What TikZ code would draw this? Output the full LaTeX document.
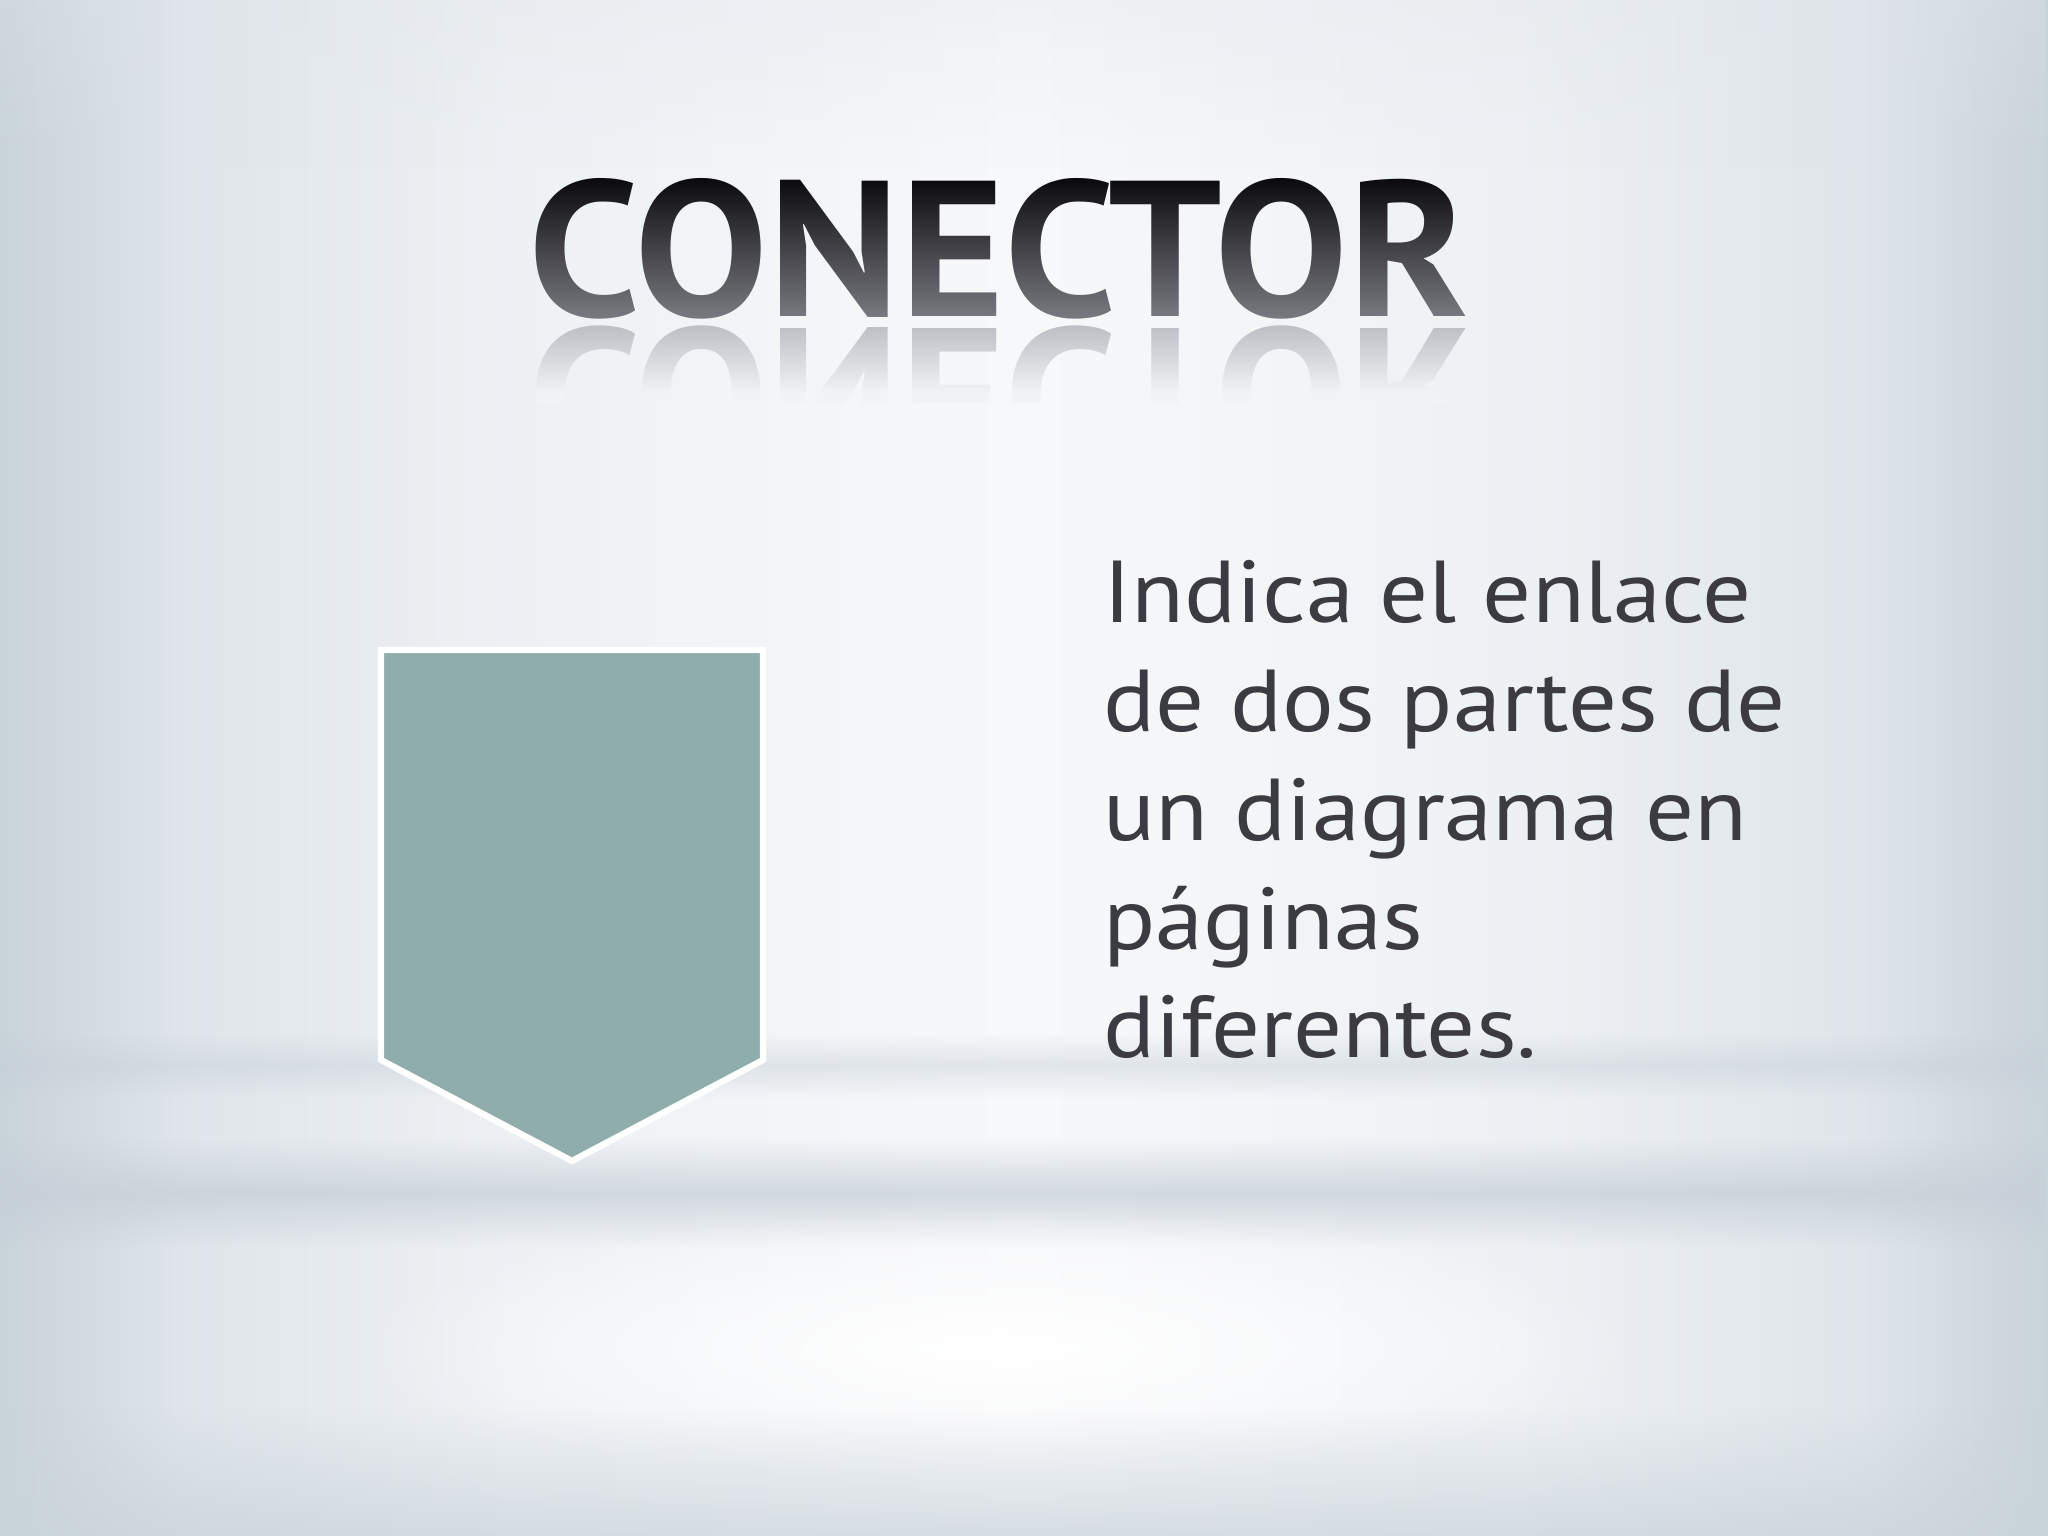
\documentclass[tikz,border=0pt]{standalone}
\usepackage{fontspec}
\setmainfont{PT Sans}[FakeStretch=1.1]
\newfontfamily\titlefont{PT Sans}
\usepackage{graphicx}
\usepackage{xcolor}
\usetikzlibrary{fadings}

\definecolor{sidegray}{HTML}{C9D3DA}
\definecolor{midgray}{HTML}{DFE5EA}
\definecolor{lightgray}{HTML}{EEF1F4}
\definecolor{centerwhite}{HTML}{F7F8FA}
\definecolor{bandgray}{HTML}{C6CFD7}
\definecolor{titletop}{HTML}{0A0A0D}
\definecolor{titlebottom}{HTML}{7A7A82}
\definecolor{reflgray}{HTML}{BFC0C6}
\definecolor{reflbg}{HTML}{F1F3F5}
\definecolor{connfill}{HTML}{8EADAB}
\definecolor{bodytext}{HTML}{3B3B41}

% shadings are stretched so that 25bp..75bp covers the path
\pgfdeclarehorizontalshading{slidebg}{100bp}{color(0bp)=(sidegray); color(25bp)=(sidegray); color(29.5bp)=(midgray); color(37.5bp)=(lightgray); color(50bp)=(centerwhite); color(62bp)=(lightgray); color(70.5bp)=(midgray); color(75bp)=(sidegray); color(100bp)=(sidegray)}
\pgfdeclareverticalshading{titleshade}{100bp}{color(0bp)=(reflbg); color(33.5bp)=(reflbg); color(41bp)=(reflgray); color(41.6bp)=(reflgray); color(41.9bp)=(titlebottom); color(58bp)=(titletop); color(100bp)=(titletop)}

\tikzfading[name=bandfade, top color=transparent!100, bottom color=transparent!100, middle color=transparent!0]
\tikzfading[name=upfade, top color=transparent!100, bottom color=transparent!0]
\tikzfading[name=downfade, top color=transparent!0, bottom color=transparent!100]
\tikzfading[name=glowfade, inner color=transparent!0, outer color=transparent!100]

\newcommand{\titletext}{\resizebox{9.4cm}{1.38cm}{\titlefont\bfseries CONECTOR}}

\tikzset{%
	bodyline/.style={
		anchor=base west,
		inner sep=0pt,
		text=bodytext,
		font=\fontsize{25}{30}\selectfont
	},
	connector/.style={
		fill=connfill,
		draw=white,
		line width=1.8pt,
		line join=miter
	},
}

\begin{document}
\pgfdeclarefading{titlefade}{%
	\begin{pgfpicture}%
		\pgfsetfillcolor{black}%
		\pgfpathrectangle{\pgfpoint{-5.5cm}{-2.6cm}}{\pgfpoint{11cm}{5.2cm}}%
		\pgfusepath{fill}%
		\pgftext[base,at={\pgfpoint{0cm}{-0.69cm}}]{\color{white}\titletext}%
		\begin{pgfscope}%
			\pgfpathrectangle{\pgfpoint{-5.2cm}{-1.55cm}}{\pgfpoint{10.4cm}{0.85cm}}%
			\pgfusepath{clip}%
			\pgftext[top,at={\pgfpoint{0cm}{-0.78cm}}]{\color{white}\scalebox{1}[-1]{\titletext}}%
		\end{pgfscope}%
	\end{pgfpicture}}%
\begin{tikzpicture}
			\useasboundingbox (-9.99,-12.88) rectangle (10.49,2.48);
			
			% Draw the background
			\shade[shading=slidebg] (-9.99,-12.88) rectangle (10.49,2.48);
			\fill[midgray, path fading=downfade, opacity=0.3] (-9.99,0.8) rectangle (10.49,2.48);
			\fill[bandgray, path fading=bandfade, opacity=0.45] (-9.99,-7.85) rectangle (10.49,-8.5);
			\fill[bandgray, path fading=bandfade, opacity=0.75] (-9.99,-8.9) rectangle (10.49,-10.0);
			\fill[white, path fading=glowfade] (0,-11.0) ellipse (6.5 and 1.4);
			\fill[sidegray, path fading=upfade, opacity=0.7] (-9.99,-12.88) rectangle (10.49,-11.6);
			
			% Draw the title and its reflection
			\shade[shading=titleshade, path fading=titlefade, fit fading=false] (-5,-2.2) rectangle (5,2.2);
			
			% Draw the connector shape
			\coordinate (c1) at (-6.18,-4.02);
			\coordinate (c2) at (-2.36,-4.02);
			\coordinate (c3) at (-2.36,-8.12);
			\coordinate (tip) at (-4.27,-9.13);
			\coordinate (c4) at (-6.18,-8.12);
			\fill[black, opacity=0.12, shift={(0.02,-0.09)}] (c1) -- (c2) -- (c3) -- (tip) -- (c4) -- cycle;
			\fill[black, opacity=0.15, shift={(0.01,-0.05)}] (c1) -- (c2) -- (c3) -- (tip) -- (c4) -- cycle;
			\draw[connector] (c1) -- (c2) -- (c3) -- (tip) -- (c4) -- cycle;
			
			% Draw the text
			\foreach \txt [count=\i] in {Indica el enlace, de dos partes de, un diagrama en, páginas, diferentes.}
				\node[bodyline] (line\i) at (1.04,{-3.75-(\i-1)*1.087}) {\txt};

		\end{tikzpicture}
\end{document}
